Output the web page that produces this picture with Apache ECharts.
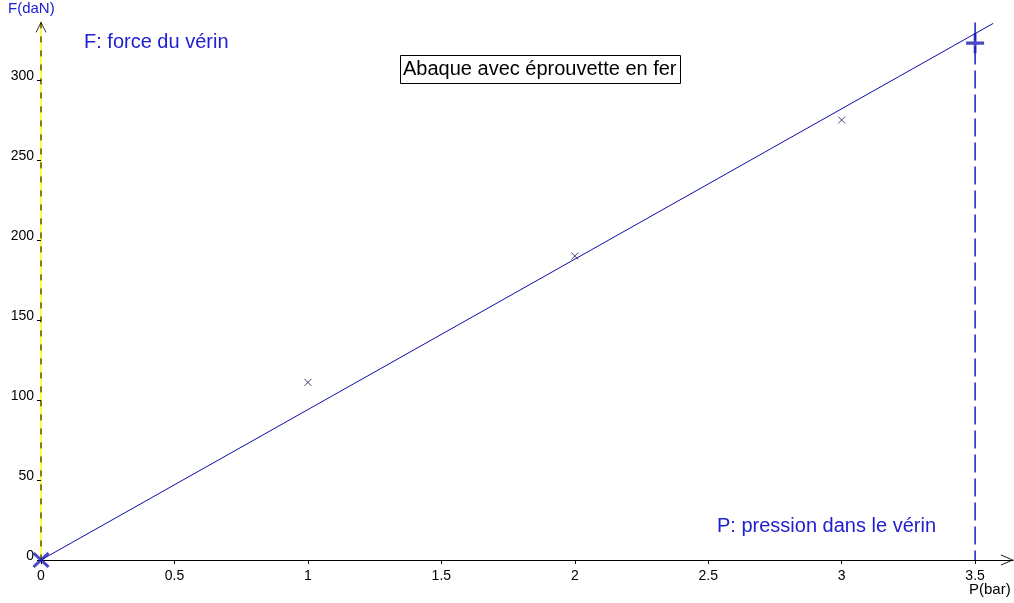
<!DOCTYPE html>
<html>
<head>
<meta charset="utf-8">
<script src="https://cdn.jsdelivr.net/npm/echarts@6/dist/echarts.min.js"></script>
<style>html,body{margin:0;padding:0;background:#fff;}#c{width:1014px;height:603px;}</style>
</head>
<body>
<div id="c"></div>
<script>
// ---- data ----
var xTicks = [0, 0.5, 1, 1.5, 2, 2.5, 3, 3.5];
var yTicks = [0, 50, 100, 150, 200, 250, 300];
var xMax = 3.642;          // axis extent (arrow end)
var yMax = 336;
var measP = [1, 2, 3];
var measF = [111, 190, 275];
var originPoint = [0, 0];
var targetP = 3.5;
var targetF = 323;
var fitP = [0, 3.568];
var fitF = [0, 335.4];

var FONT = "'Liberation Sans', Arial, sans-serif";
var BLUE = '#2020d0';
var NAVY = '#0c0ca8';

var chart = echarts.init(document.getElementById('c'), null, {renderer: 'canvas'});

var measData = measP.map(function (p, i) { return [p, measF[i]]; });
var fitData = fitP.map(function (p, i) { return [p, fitF[i]]; });

var option = {
  animation: false,
  backgroundColor: '#ffffff',
  title: {
    text: 'Abaque avec éprouvette en fer',
    left: 400, top: 55,
    padding: [4, 4, 4, 3],
    borderColor: '#000', borderWidth: 1,
    textStyle: {fontFamily: FONT, fontSize: 20, fontWeight: 'normal', color: '#000', lineHeight: 21}
  },
  grid: {left: 41, right: 1, top: 560 - yMax * 1.6, bottom: 43, containLabel: false},
  xAxis: {
    type: 'value', min: 0, max: xMax,
    axisLine: {show: true, onZero: false, lineStyle: {color: '#000', width: 1}},
    axisTick: {show: true, length: 4, customValues: xTicks, lineStyle: {color: '#000'}},
    axisLabel: {customValues: xTicks, margin: 9, color: '#000', fontFamily: FONT, fontSize: 14},
    splitLine: {show: false}
  },
  yAxis: {
    type: 'value', min: 0, max: yMax,
    axisLine: {show: true, onZero: false, lineStyle: {color: '#ffff33', width: 2}},
    axisTick: {show: true, length: 4, customValues: yTicks, lineStyle: {color: '#000'}},
    axisLabel: {customValues: yTicks, margin: 7, color: '#000', fontFamily: FONT, fontSize: 14,
      verticalAlign: 'bottom', lineHeight: 8},
    splitLine: {show: false}
  },
  graphic: [
    {type: 'text', left: 8, top: 1, style: {text: 'F(daN)', fill: BLUE, font: '15px ' + FONT}},
    {type: 'text', x: 84, y: 42, style: {text: 'F: force du vérin', fill: BLUE, font: '20px ' + FONT, verticalAlign: 'middle'}},
    {type: 'text', x: 717, y: 526, style: {text: 'P: pression dans le vérin', fill: BLUE, font: '20px ' + FONT, verticalAlign: 'middle'}},
    {type: 'text', x: 969, y: 590, style: {text: 'P(bar)', fill: '#000', font: '15px ' + FONT, verticalAlign: 'middle'}}
  ],
  series: [
    { // black dashes over the yellow axis
      type: 'line', data: [[0, yMax], [0, 0]], symbol: 'none', silent: true, z: 3,
      lineStyle: {color: '#000', width: 1, type: [6, 8]}
    },
    { // vertical dashed line at target pressure
      type: 'line', data: [[targetP, yMax], [targetP, 0]], symbol: 'none', silent: true, z: 3,
      lineStyle: {color: '#1c1cc0', width: 1.5, type: [18, 6]}
    },
    { // fitted line
      type: 'line', data: fitData, symbol: 'none', silent: true, z: 4,
      lineStyle: {color: NAVY, width: 1}
    },
    { // measured points
      type: 'scatter', data: measData, z: 5, silent: true,
      symbol: 'path://M0,0 L10,10 M10,0 L0,10', symbolSize: 7,
      itemStyle: {color: 'transparent', borderColor: '#101050', borderWidth: 1}
    },
    { // origin X
      type: 'scatter', data: [originPoint], z: 6, silent: true, clip: false,
      symbol: 'path://M0,0 L10,10 M10,0 L0,10', symbolSize: [15, 14],
      itemStyle: {color: 'transparent', borderColor: '#1a1ab4', borderWidth: 3}
    },
    { // target plus
      type: 'scatter', data: [[targetP, targetF]], z: 6, silent: true,
      symbol: 'path://M0,10 L20,10 M10,0 L10,20', symbolSize: [18, 20],
      itemStyle: {color: 'transparent', borderColor: '#1a1ab4', borderWidth: 3}
    },
    { // y axis arrow
      type: 'scatter', data: [[0, yMax]], z: 6, silent: true, clip: false,
      symbol: 'path://M0,10 L5,0 L10,10', symbolSize: [10, 10], symbolOffset: [0, 5],
      itemStyle: {color: 'transparent', borderColor: '#000', borderWidth: 1}
    },
    { // x axis arrow
      type: 'scatter', data: [[xMax, 0]], z: 6, silent: true, clip: false,
      symbol: 'path://M0,0 L10,5 L0,10', symbolSize: [12, 10], symbolOffset: [-6, 0],
      itemStyle: {color: 'transparent', borderColor: '#000', borderWidth: 1}
    }
  ]
};
chart.setOption(option);
</script>
</body>
</html>
